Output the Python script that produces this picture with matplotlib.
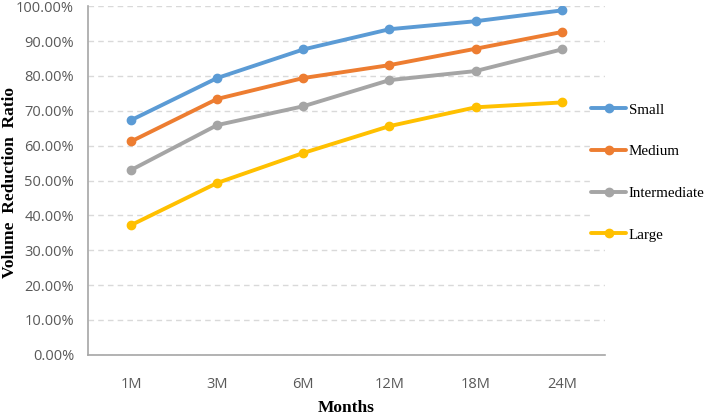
import matplotlib
matplotlib.use("Agg")
import matplotlib.pyplot as plt
from matplotlib.ticker import FuncFormatter

months = ["1M", "3M", "6M", "12M", "18M", "24M"]
small = [67.3, 79.4, 87.6, 93.4, 95.7, 98.8]
medium = [61.2, 73.4, 79.4, 83.1, 87.8, 92.6]
intermediate = [53.0, 65.9, 71.3, 78.8, 81.4, 87.6]
large = [37.2, 49.3, 57.9, 65.6, 71.0, 72.4]

series = [("Small", small, "#5b9bd5"),
          ("Medium", medium, "#ed7d31"),
          ("Intermediate", intermediate, "#a5a5a5"),
          ("Large", large, "#ffc000")]

fig = plt.figure(figsize=(7.09, 4.15), dpi=100)
ax = fig.add_axes([0.124, 0.145, 0.729, 0.84])

x = list(range(len(months)))
for name, vals, col in series:
    ax.plot(x, vals, color=col, lw=2.8, marker="o", ms=6, label=name,
            solid_capstyle="round")

ax.set_xlim(-0.5, len(months) - 0.5)
ax.set_ylim(0, 100)
ax.set_yticks(range(0, 101, 10))
ax.yaxis.set_major_formatter(FuncFormatter(lambda v, p: f"{v:.2f}%"))
ax.set_xticks(x)
ax.set_xticklabels(months)
ax.grid(axis="y", color="#d9d9d9", ls=(0, (4, 3)), lw=1)
ax.set_axisbelow(True)
for s in ["top", "right"]:
    ax.spines[s].set_visible(False)
for s in ["left", "bottom"]:
    ax.spines[s].set_color("#a6a6a6")
    ax.spines[s].set_linewidth(1.2)
ax.tick_params(length=0, labelsize=10.5, labelcolor="#595959", pad=10)
ax.tick_params(axis="x", pad=16)
for t in ax.get_xticklabels() + ax.get_yticklabels():
    t.set_family("Open Sans")

fig.text(346 / 709, 1 - 408 / 415, "Months", family="Liberation Serif",
         fontweight="bold", fontsize=12.5, ha="center", va="center")
fig.text(10 / 709, 1 - 182 / 415, "Volume  Reduction  Ratio", family="Liberation Serif",
         fontweight="bold", fontsize=12.5, ha="center", va="center", rotation=90)

leg = fig.legend(*ax.get_legend_handles_labels(), loc="upper left",
                 bbox_to_anchor=(591 / 709, 1 - 103 / 415), frameon=True,
                 facecolor="white", edgecolor="none", framealpha=1,
                 prop={"family": "Liberation Serif", "size": 10.8},
                 labelspacing=1.88, handlelength=2.35, handletextpad=0.15,
                 borderpad=0, borderaxespad=0)

fig.savefig("out.png", dpi=100)
